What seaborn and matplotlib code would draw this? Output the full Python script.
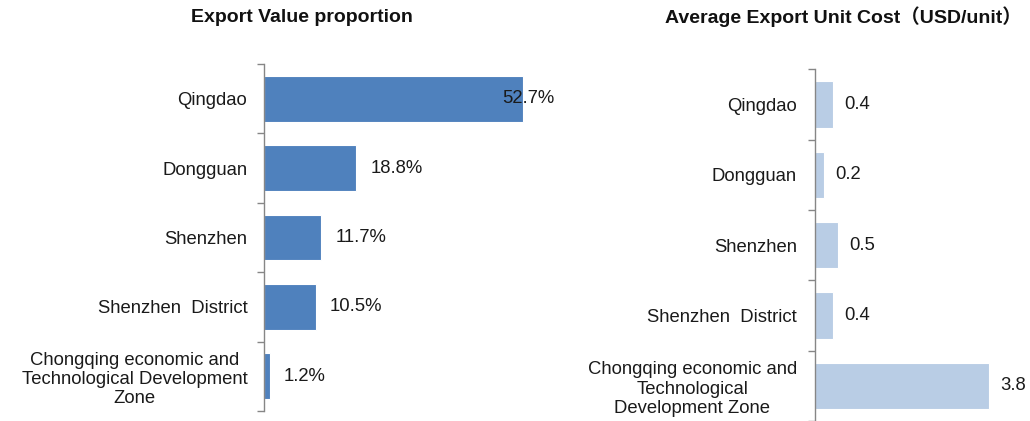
import matplotlib
matplotlib.use("Agg")
import matplotlib.pyplot as plt
import seaborn as sns
import numpy as np

sns.set_theme(style="white")
plt.rcParams['font.family'] = ['Liberation Sans', 'Noto Sans CJK SC', 'DejaVu Sans']

categories_left = ["Qingdao", "Dongguan", "Shenzhen", "Shenzhen  District",
                   "Chongqing economic and\nTechnological Development\nZone"]
categories_right = ["Qingdao", "Dongguan", "Shenzhen", "Shenzhen  District",
                    "Chongqing economic and\nTechnological\nDevelopment Zone"]
export_share = [52.7, 18.8, 11.7, 10.5, 1.2]
share_labels = ["52.7%", "18.8%", "11.7%", "10.5%", "1.2%"]
unit_cost = [0.4, 0.2, 0.5, 0.4, 3.8]
cost_labels = ["0.4", "0.2", "0.5", "0.4", "3.8"]

W, H = 1030, 421
fig = plt.figure(figsize=(W / 100, H / 100), dpi=100)

axL = fig.add_axes([264 / W, (H - 411) / H, 296 / W, 347 / H])
axR = fig.add_axes([815 / W, 0.0, 215 / W, 351.5 / H])

spine_col = "#868686"

def style(ax, cats, xmax, pad, ls):
    ax.set_ylim(len(cats) - 0.5, -0.5)
    ax.set_xlim(0, xmax)
    for s in ["top", "right", "bottom"]:
        ax.spines[s].set_visible(False)
    ax.spines["left"].set_color(spine_col)
    ax.spines["left"].set_linewidth(1.0)
    ax.set_xticks([])
    ax.set_yticks(range(len(cats)))
    ax.set_yticklabels(cats, fontsize=13.3, color="#1a1a1a", multialignment="center",
                       linespacing=ls)
    ax.tick_params(axis="y", which="major", left=False, length=0, pad=pad)
    ax.set_yticks(np.arange(-0.5, len(cats), 1.0), minor=True)
    ax.tick_params(axis="y", which="minor", left=True, length=5, width=1.0,
                   color=spine_col, direction="out")
    ax.set_xlabel("")
    ax.set_ylabel("")

sns.barplot(x=export_share, y=list(range(5)), orient="h", color="#4F81BD",
            saturation=1, width=0.66, edgecolor="white", linewidth=0.8, ax=axL)
style(axL, categories_left, 60.3, 12, 1.15)
offsets_left = [-15, 10, 10, 10, 10]
for i, (v, lab) in enumerate(zip(export_share, share_labels)):
    axL.annotate(lab, (v, i), xytext=(offsets_left[i], 0), textcoords="offset points",
                 ha="left", va="center", fontsize=13.3, color="#1a1a1a", annotation_clip=False)

sns.barplot(x=unit_cost, y=list(range(5)), orient="h", color="#B9CDE5",
            saturation=1, width=0.66, edgecolor="white", linewidth=0.8, ax=axR)
style(axR, categories_right, 4.69, 13, 1.2)
for i, (v, lab) in enumerate(zip(unit_cost, cost_labels)):
    axR.annotate(lab, (v, i), xytext=(8, 0), textcoords="offset points",
                 ha="left", va="center", fontsize=13.3, color="#1a1a1a", annotation_clip=False)

fig.text(302 / W, 1 - 18 / H, "Export Value proportion", ha="center", va="center",
         fontsize=14, fontweight="bold", color="#111111")
fig.text(843 / W, 1 - 17 / H, "Average Export Unit Cost（USD/unit）", ha="center", va="center",
         fontsize=14, fontweight="bold", color="#111111")

fig.savefig("out.png", dpi=100)
